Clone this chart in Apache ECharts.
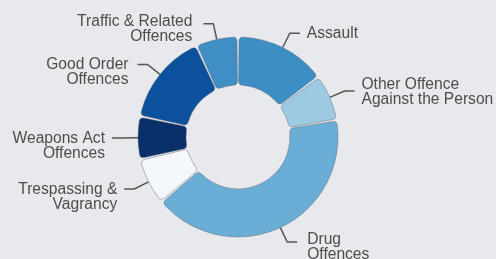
<!DOCTYPE html>
<html>
<head>
<meta charset="utf-8">
<script src="https://cdn.jsdelivr.net/npm/echarts@6/dist/echarts.min.js"></script>
<style>
  html, body { margin: 0; padding: 0; background: #e8e9ed; }
  #chart { width: 496px; height: 259px; }
</style>
</head>
<body>
<div id="chart"></div>
<script>
// slices, clockwise from the top
const categories = [
  'Assault',
  'Other Offence\nAgainst the Person',
  'Drug\nOffences',
  'Trespassing &\nVagrancy',
  'Weapons Act\nOffences',
  'Good Order\nOffences',
  'Traffic & Related\nOffences'
];
const shares = [14.7, 7.5, 41.4, 7.6, 6.9, 14.8, 6.8];
const colours = ['#3d8ec4', '#9ecae1', '#6aaed6', '#f4f8fd', '#0a3069', '#0b519b', '#3f8fc5'];

// label tweaks: a blank leading line of this height drops the text under the leader line
const labelDrop = [0, 2, 10, 16, 16, 16, 12];
const labelGap = [7, 7, 10, 7, 7, 9, 11];

const rich = {};
labelDrop.forEach((h, i) => {
  rich['gap' + i] = { height: h, lineHeight: h, fontSize: 1 };
});

const chart = echarts.init(document.getElementById('chart'));

const option = {
  backgroundColor: '#e8e9ed',
  animation: false,
  series: [
    {
      type: 'pie',
      center: [238, 137],
      radius: [52, 100],
      startAngle: 90,
      clockwise: true,
      padAngle: 1.2,
      avoidLabelOverlap: false,
      minShowLabelAngle: 0,
      labelLayout: { hideOverlap: false },
      itemStyle: {
        borderRadius: 4,
        borderColor: 'rgba(90,100,115,0.45)',
        borderWidth: 1
      },
      label: {
        show: true,
        color: '#4d4d4d',
        fontFamily: 'Liberation Sans, Arial, sans-serif',
        fontSize: 15.6,
        lineHeight: 15,
        overflow: 'none',
        rich: rich,
        formatter: (p) => labelDrop[p.dataIndex] > 0
          ? '{gap' + p.dataIndex + '|}\n' + p.name
          : p.name
      },
      labelLine: {
        show: true,
        length: 16,
        length2: 10,
        lineStyle: { color: '#555', width: 1.5 }
      },
      data: categories.map((name, i) => ({
        name: name,
        value: shares[i],
        itemStyle: { color: colours[i] },
        label: { distanceToLabelLine: labelGap[i] }
      }))
    }
  ]
};

chart.setOption(option);
</script>
</body>
</html>
